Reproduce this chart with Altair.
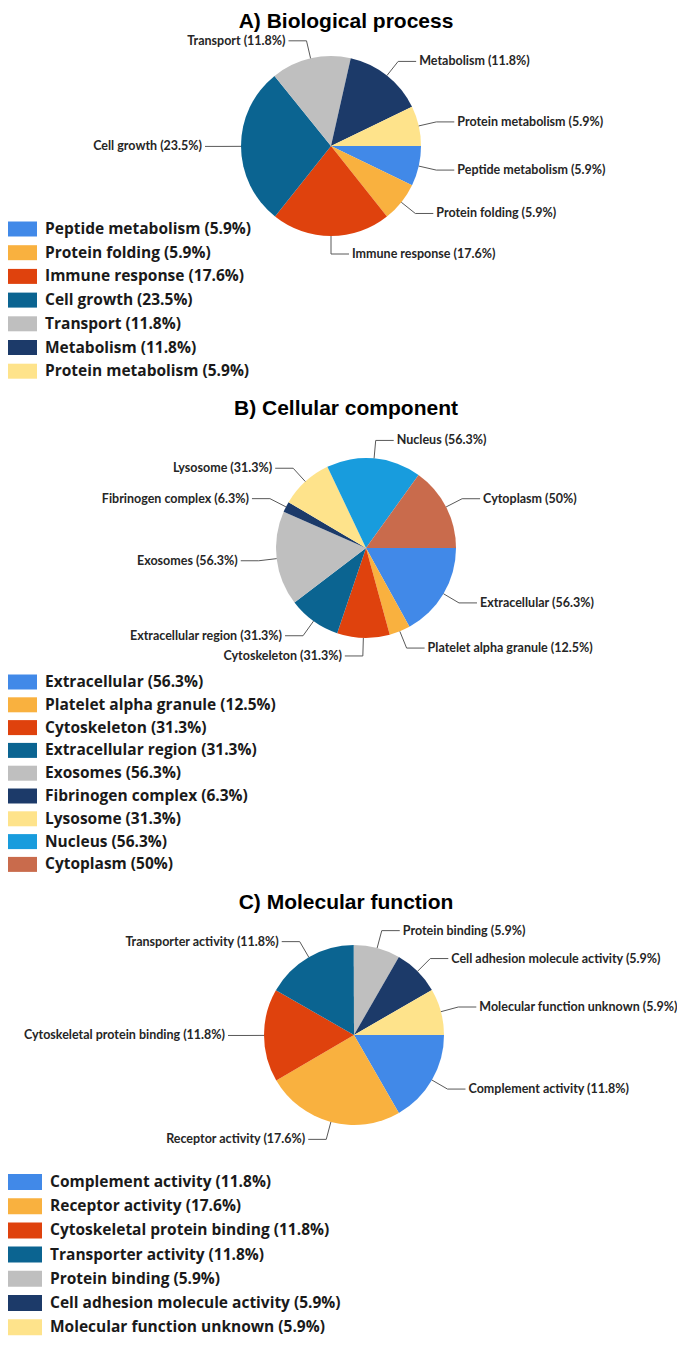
import math
import altair as alt
import pandas as pd

# ---------------- data ----------------
A_TITLE = "A) Biological process"
A_CATS = ["Peptide metabolism", "Protein folding", "Immune response", "Cell growth",
          "Transport", "Metabolism", "Protein metabolism"]
A_VALS = [5.9, 5.9, 17.6, 23.5, 11.8, 11.8, 5.9]

B_TITLE = "B) Cellular component"
B_CATS = ["Extracellular", "Platelet alpha granule", "Cytoskeleton", "Extracellular region",
          "Exosomes", "Fibrinogen complex", "Lysosome", "Nucleus", "Cytoplasm"]
B_VALS = [56.3, 12.5, 31.3, 31.3, 56.3, 6.3, 31.3, 56.3, 50]

C_TITLE = "C) Molecular function"
C_CATS = ["Complement activity", "Receptor activity", "Cytoskeletal protein binding",
          "Transporter activity", "Protein binding", "Cell adhesion molecule activity",
          "Molecular function unknown"]
C_VALS = [11.8, 17.6, 11.8, 11.8, 5.9, 5.9, 5.9]

PALETTE = ["#4189E8", "#F9B13F", "#DF420D", "#0B6491", "#BFBFBF",
           "#1C3A69", "#FEE38B", "#189CDD", "#C96B4C"]

rows = []
for key, cats, vals in (("A", A_CATS, A_VALS), ("B", B_CATS, B_VALS), ("C", C_CATS, C_VALS)):
    for i, (c, v) in enumerate(zip(cats, vals)):
        rows.append({"pie": key, "idx": i, "cat": c, "value": v, "label": f"{c} ({v:g}%)"})
df = pd.DataFrame(rows)

# ---------------- layout ----------------
W, H = 669, 1330
XS = alt.Scale(domain=[8, 8 + W], nice=False, zero=False)
YS = alt.Scale(domain=[8, 8 + H], nice=False, zero=False, reverse=True)
CS = alt.Scale(domain=list(range(9)), range=PALETTE)
TS = alt.Scale(domain=[0, 1], range=[math.pi / 2, math.pi / 2 + 2 * math.pi])

PANELS = [
    ("A", A_TITLE, dict(title_y=22, cx=331, cy=146, leg_y=229, leg_dy=23.7, sw0=8, sw1=37, sh=15, tx=45)),
    ("B", B_TITLE, dict(title_y=409, cx=366, cy=548, leg_y=682, leg_dy=22.8, sw0=8, sw1=37, sh=15, tx=45)),
    ("C", C_TITLE, dict(title_y=903, cx=354, cy=1035, leg_y=1182, leg_dy=24.2, sw0=8, sw1=42, sh=16, tx=50)),
]
R = 90
RL = 108
LL = 18
LINE = "#595959"
LABEL_FONT = "Lato"
LEG_FONT = "Open Sans"

layers = []
for key, title, p in PANELS:
    cx, cy = p["cx"], p["cy"]
    base = (
        alt.Chart(df)
        .transform_filter(alt.datum.pie == key)
        .transform_joinaggregate(total="sum(value)")
        .transform_window(cum="sum(value)", sort=[alt.SortField("idx")], frame=[None, 0])
        .transform_calculate(
            frac="datum.value / datum.total",
            phi="2 * PI * (datum.cum - datum.value / 2) / datum.total",
        )
        .transform_calculate(
            ex=f"{cx} + {R} * cos(datum.phi)",
            ey=f"{cy} + {R} * sin(datum.phi)",
            bx=f"{cx} + {RL} * cos(datum.phi)",
            by=f"{cy} + {RL} * sin(datum.phi)",
            side="cos(datum.phi) >= -0.000001 ? 1 : -1",
        )
        .transform_calculate(
            hx=f"datum.bx + datum.side * {LL}",
            tx=f"datum.bx + datum.side * {LL + 3}",
            ly=f"{p['leg_y']} + datum.idx * {p['leg_dy']}",
        )
        .transform_calculate(
            ly0=f"datum.ly - {p['sh'] / 2}",
            ly1=f"datum.ly + {p['sh'] / 2}",
        )
    )

    pie = base.mark_arc(radius=R).encode(
        theta=alt.Theta("frac:Q", stack=True, scale=TS),
        color=alt.Color("idx:O", scale=CS, legend=None),
        order=alt.Order("idx:Q", sort="ascending"),
        x=alt.X(datum=cx, scale=XS, axis=None),
        y=alt.Y(datum=cy, scale=YS, axis=None),
    )
    seg1 = base.mark_rule(color=LINE, strokeWidth=1).encode(
        x=alt.X("ex:Q", scale=XS, axis=None), y=alt.Y("ey:Q", scale=YS, axis=None),
        x2="bx:Q", y2="by:Q",
    )
    seg2 = base.mark_rule(color=LINE, strokeWidth=1).encode(
        x=alt.X("bx:Q", scale=XS, axis=None), y=alt.Y("by:Q", scale=YS, axis=None),
        x2="hx:Q", y2="by:Q",
    )
    lab_r = base.transform_filter("datum.side > 0").mark_text(
        align="left", baseline="middle", font=LABEL_FONT, fontSize=12.5, fontWeight="bold", color="#262626"
    ).encode(
        x=alt.X("tx:Q", scale=XS, axis=None), y=alt.Y("by:Q", scale=YS, axis=None), text="label:N"
    )
    lab_l = base.transform_filter("datum.side < 0").mark_text(
        align="right", baseline="middle", font=LABEL_FONT, fontSize=12.5, fontWeight="bold", color="#262626"
    ).encode(
        x=alt.X("tx:Q", scale=XS, axis=None), y=alt.Y("by:Q", scale=YS, axis=None), text="label:N"
    )
    sw = base.mark_rect().encode(
        x=alt.X(datum=p["sw0"], scale=XS, axis=None), x2=alt.X2(datum=p["sw1"]),
        y=alt.Y("ly0:Q", scale=YS, axis=None), y2="ly1:Q",
        color=alt.Color("idx:O", scale=CS, legend=None),
    )
    lt = base.mark_text(
        align="left", baseline="middle", font=LEG_FONT, fontSize=15.5, fontWeight="bold", color="#1a1a1a"
    ).encode(
        x=alt.X(datum=p["tx"], scale=XS, axis=None), y=alt.Y("ly:Q", scale=YS, axis=None), text="label:N"
    )
    ttl = alt.Chart(pd.DataFrame({"t": [title]})).mark_text(
        align="center", baseline="middle", font="Liberation Sans", fontSize=21, fontWeight="bold", color="#000000"
    ).encode(
        x=alt.X(datum=346, scale=XS, axis=None), y=alt.Y(datum=p["title_y"], scale=YS, axis=None), text="t:N"
    )
    layers += [pie, seg1, seg2, lab_r, lab_l, sw, lt, ttl]

chart = (
    alt.layer(*layers)
    .properties(width=W, height=H, padding=0, autosize="none")
    .configure_view(stroke=None)
)
chart.save("out.html", embed_options={"renderer": "svg", "actions": False})
